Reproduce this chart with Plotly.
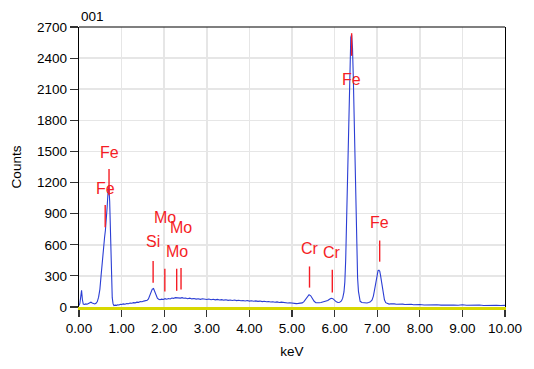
import plotly.graph_objects as go

# Spectrum (keV, counts)
energy_kev = [
    0.00, 0.02, 0.04, 0.06, 0.08, 0.10, 0.13, 0.16, 0.19, 0.22, 0.25, 0.28, 0.31, 0.34, 0.37,
    0.40, 0.43, 0.46, 0.49, 0.52, 0.55, 0.58, 0.60, 0.62, 0.64, 0.66, 0.68, 0.70, 0.72, 0.74,
    0.76, 0.78, 0.80, 0.82, 0.85, 0.88, 0.91, 0.94, 0.97, 1.00, 1.04, 1.08, 1.12, 1.16, 1.20,
    1.24, 1.28, 1.32, 1.36, 1.40, 1.44, 1.48, 1.52, 1.56, 1.60, 1.63, 1.66, 1.69, 1.72, 1.75,
    1.78, 1.81, 1.84, 1.87, 1.90, 1.94, 1.98, 2.02, 2.06, 2.10, 2.14, 2.18, 2.22, 2.26, 2.30,
    2.34, 2.38, 2.42, 2.46, 2.50, 2.55, 2.60, 2.65, 2.70, 2.75, 2.80, 2.85, 2.90, 2.95, 3.00,
    3.05, 3.10, 3.15, 3.20, 3.25, 3.30, 3.35, 3.40, 3.45, 3.50, 3.55, 3.60, 3.65, 3.70, 3.75,
    3.80, 3.85, 3.90, 3.95, 4.00, 4.05, 4.10, 4.15, 4.20, 4.25, 4.30, 4.35, 4.40, 4.45, 4.50,
    4.55, 4.60, 4.65, 4.70, 4.75, 4.80, 4.85, 4.90, 4.95, 5.00, 5.05, 5.10, 5.15, 5.20, 5.24,
    5.28, 5.32, 5.36, 5.40, 5.44, 5.48, 5.52, 5.56, 5.60, 5.64, 5.68, 5.72, 5.76, 5.80, 5.84,
    5.88, 5.92, 5.96, 6.00, 6.04, 6.08, 6.12, 6.16, 6.19, 6.22, 6.24, 6.26, 6.28, 6.30, 6.32,
    6.34, 6.36, 6.38, 6.40, 6.42, 6.44, 6.46, 6.48, 6.50, 6.52, 6.54, 6.56, 6.58, 6.60, 6.64,
    6.68, 6.72, 6.76, 6.80, 6.84, 6.88, 6.91, 6.94, 6.97, 7.00, 7.02, 7.04, 7.06, 7.08, 7.11,
    7.14, 7.17, 7.20, 7.24, 7.28, 7.32, 7.36, 7.40, 7.45, 7.50, 7.55, 7.60, 7.65, 7.70, 7.75,
    7.80, 7.85, 7.90, 7.95, 8.00, 8.10, 8.20, 8.30, 8.40, 8.50, 8.60, 8.70, 8.80, 8.90, 9.00,
    9.10, 9.20, 9.30, 9.40, 9.50, 9.60, 9.70, 9.80, 9.90, 10.00,
]
counts = [
    15, 35, 95, 160, 70, 28, 24, 30, 27, 33, 40, 46, 38, 31, 29,
    36, 52, 95, 170, 310, 470, 600, 670, 740, 830, 960, 1100, 1170, 1020, 660,
    290, 90, 30, 14, 18, 16, 22, 20, 26, 24, 30, 27, 34, 31, 38,
    36, 42, 40, 47, 45, 52, 50, 57, 60, 64, 78, 105, 140, 172, 178,
    150, 110, 86, 74, 70, 76, 72, 80, 75, 82, 78, 86, 83, 90, 88,
    92, 86, 90, 84, 87, 80, 85, 78, 82, 76, 80, 74, 79, 75, 72,
    77, 70, 74, 69, 73, 68, 71, 66, 70, 64, 68, 63, 67, 62, 65,
    60, 63, 58, 62, 57, 60, 55, 59, 54, 57, 52, 55, 50, 53, 48,
    51, 46, 49, 44, 47, 42, 44, 39, 41, 36, 38, 33, 35, 34, 40,
    52, 78, 105, 118, 108, 80, 55, 42, 38, 41, 44, 47, 50, 55, 62,
    74, 84, 80, 64, 50, 44, 46, 58, 85, 145, 240, 450, 800, 1200, 1650,
    2080, 2420, 2600, 2625, 2500, 2200, 1780, 1300, 860, 520, 280, 150, 85, 55, 44,
    40, 42, 39, 44, 50, 68, 105, 170, 250, 320, 350, 355, 345, 300, 215,
    130, 70, 42, 32, 28, 31, 27, 30, 26, 29, 25, 28, 24, 27, 23,
    26, 22, 25, 21, 24, 20, 23, 19, 22, 18, 21, 18, 20, 17, 21,
    17, 19, 16, 19, 15, 18, 15, 17, 14, 16,
]

# Element line markers
marker_labels = ["Fe", "Fe", "Si", "Mo", "Mo", "Mo", "Cr", "Cr", "Fe", "Fe"]
marker_kev = [0.615, 0.705, 1.740, 2.015, 2.293, 2.395, 5.411, 5.946, 6.400, 7.058]
marker_low = [770, 1078, 234, 150, 156, 169, 187, 141, 2422, 437]
marker_high = [984, 1331, 443, 369, 369, 375, 391, 359, 2640, 641]
label_counts = [1144, 1490, 628, 860, 531, 766, 562, 525, 2194, 813]

x_ticks = [0, 1, 2, 3, 4, 5, 6, 7, 8, 9, 10]
y_ticks = [0, 300, 600, 900, 1200, 1500, 1800, 2100, 2400, 2700]

RED = "#f51d25"
FONT = "Liberation Sans, Arial, sans-serif"

fig = go.Figure()

fig.add_trace(go.Scatter(
    x=energy_kev, y=counts, mode="lines",
    line=dict(color="#2b3ed4", width=1.1),
    hoverinfo="skip", showlegend=False,
))

for xk, lo, hi in zip(marker_kev, marker_low, marker_high):
    fig.add_trace(go.Scatter(
        x=[xk, xk], y=[lo, hi], mode="lines",
        line=dict(color=RED, width=1.4),
        hoverinfo="skip", showlegend=False,
    ))

for lab, xk, yc in zip(marker_labels, marker_kev, label_counts):
    fig.add_annotation(
        x=xk, y=yc, text=lab, showarrow=False,
        font=dict(family=FONT, size=16, color=RED),
        xanchor="center", yanchor="middle",
    )

fig.add_annotation(
    x=0, y=1, xref="paper", yref="paper", text="001", showarrow=False,
    xanchor="left", yanchor="bottom", yshift=1,
    font=dict(family=FONT, size=13.5, color="black"),
)

# top border
fig.add_shape(type="line", xref="paper", yref="paper", x0=0, x1=1, y0=1, y1=1,
              line=dict(color="black", width=1.2))

fig.update_xaxes(
    range=[0, 10], tickvals=x_ticks, ticktext=[f"{v:.2f}" for v in x_ticks],
    showgrid=True, gridcolor="#e6e6e6", gridwidth=1.5,
    showline=True, linecolor="#d8d800", linewidth=2.5,
    ticks="outside", ticklen=7, tickcolor="#333333", tickwidth=1.2,
    tickfont=dict(family=FONT, size=13.5, color="black"),
    title=dict(text="keV", font=dict(family=FONT, size=13.5, color="black"), standoff=12),
    zeroline=False,
)
fig.update_yaxes(
    range=[0, 2700], tickvals=y_ticks,
    showgrid=True, gridcolor="#e6e6e6", gridwidth=1.5,
    showline=True, linecolor="black", linewidth=1.2, mirror=True,
    ticks="outside", ticklen=8, tickcolor="#333333", tickwidth=1.2,
    tickfont=dict(family=FONT, size=13.5, color="black"),
    title=dict(text="Counts", font=dict(family=FONT, size=13.5, color="black"), standoff=12),
    zeroline=False,
)

fig.update_layout(
    width=534, height=369,
    margin=dict(l=79, r=22, t=27, b=54),
    paper_bgcolor="white", plot_bgcolor="white",
    showlegend=False,
)

fig.write_html(
    "out.html",
    config={"displayModeBar": False, "staticPlot": True},
    post_script="document.body.style.margin='0';document.body.style.padding='0';"
                "document.body.style.overflow='hidden';",
)
